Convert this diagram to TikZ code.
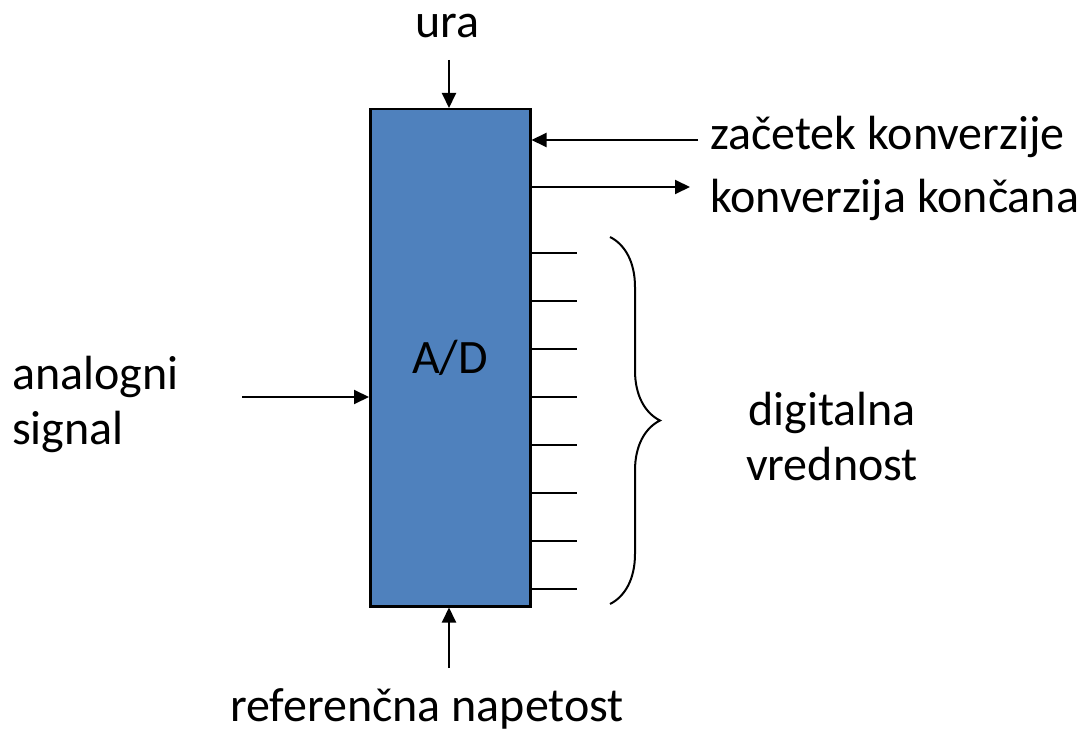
\documentclass[tikz,border=0pt]{standalone}
\usepackage{fontspec}
\setmainfont{Carlito}
\usetikzlibrary{arrows.meta,decorations.pathreplacing}
\definecolor{adblue}{HTML}{4F81BD}
\begin{document}
\begin{tikzpicture}[x=1pt,y=-1pt,
  lbl/.style={font=\fontsize{48}{55}\selectfont, inner sep=0pt},
  wire/.style={line width=2pt},
  sig/.style={wire, -{Triangle[length=15pt,width=14pt]}},
  pin/.style={line width=2pt}]
\useasboundingbox (0,0) rectangle (1080,733);
% converter block
\node (ad) [draw=black, line width=2.5pt, fill=adblue, minimum width=160pt, minimum height=497pt, inner sep=0pt, anchor=north west] at (369,108) {};
\node (adlbl) [lbl] at (450,358) {A/D};
% clock input
\coordinate (clk) at (449,60);
\node (ura) [lbl] at (447,26) {ura};
\draw[sig] (clk) -- (ad.north west -| clk);
% start of conversion
\coordinate (soc) at (698,140);
\node (socl) [lbl, anchor=west] at (710,137) {začetek konverzije};
\draw[sig] (soc) -- (soc -| ad.east);
% end of conversion
\coordinate (eocs) at (529,187);
\coordinate (eoc) at (690,187);
\node (eocl) [lbl, anchor=west] at (710,200) {konverzija končana};
\draw[sig] (eocs) -- (eoc);
% analogue input
\coordinate (ain) at (242,397);
\node (ainl) [lbl, align=left, anchor=west] at (12,404) {analogni\\signal};
\draw[sig] (ain) -- (ain -| ad.west);
% reference voltage
\coordinate (vref) at (449,668);
\node (vrefl) [lbl] at (427,709) {referenčna napetost};
\draw[sig] (vref) -- (vref |- ad.south);
% digital output lines
\foreach \i in {0,...,7} {
  \coordinate (p\i) at (577,253+48*\i);
  \draw[pin] (p\i -| ad.east) -- (p\i);
}
\coordinate (bt) at (610,237);
\coordinate (bb) at (610,604);
\draw[line width=2pt, decorate, decoration={brace, amplitude=50pt, aspect=0.5}] (bt) -- (bb);
\node (dv) [lbl, align=center] at (832,437) {digitalna\\vrednost};
\end{tikzpicture}
\end{document}
